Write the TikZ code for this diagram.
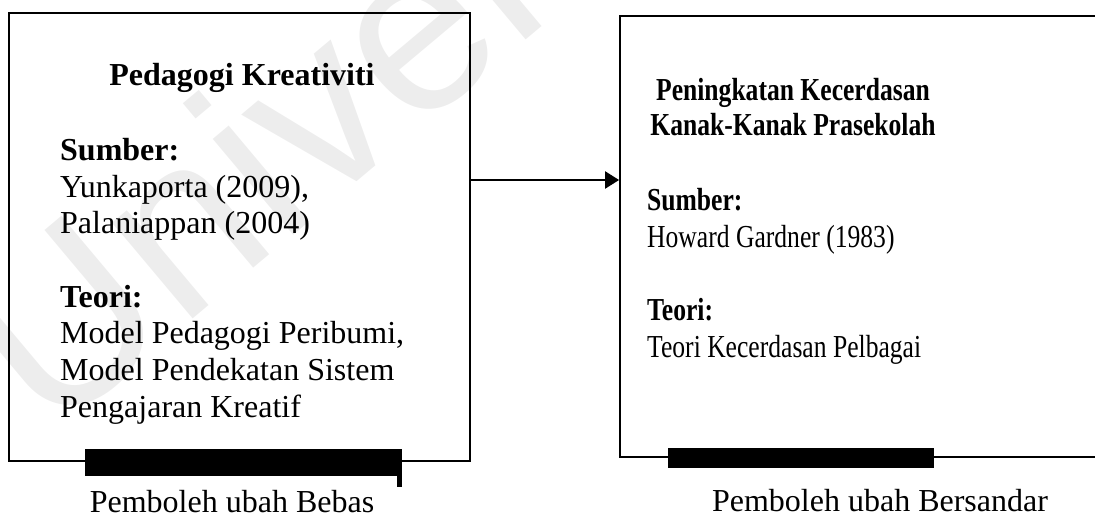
\documentclass[tikz,border=0pt]{standalone}
\usepackage{fontspec}
\setmainfont{Liberation Serif}
\newfontfamily\narrowserif[FakeStretch=0.8]{Liberation Serif}
\newfontfamily\markfont{Liberation Sans}
\usetikzlibrary{arrows.meta}

\begin{document}
\begin{tikzpicture}[x=1pt,y=-1pt,
  boxframe/.style={draw=black, line width=1.8pt, inner sep=0pt, rectangle},
  txt/.style={inner sep=0pt, anchor=base west, font=\fontsize{32}{36}\selectfont},
  head/.style={txt, font=\bfseries\fontsize{32}{36}\selectfont},
  rtxt/.style={txt, font=\narrowserif\fontsize{32}{36}\selectfont},
  rhead/.style={txt, font=\narrowserif\bfseries\fontsize{32}{36}\selectfont},
  conn/.style={line width=2.2pt, -{Triangle[length=14pt,width=17pt]}},
  bar/.style={fill=black},
  stampstyle/.style={inner sep=0pt, anchor=base west, rotate=40, text=black!7,
    font=\markfont\fontsize{237}{237}\selectfont}
]
\useasboundingbox (0,0) rectangle (1095,517);
\clip (0,0) rectangle (1095,517);

% faint background stamp
\node[stampstyle] (stamp) at (49,440) {Universiti Malaya};

% the two variable boxes
\node[boxframe, minimum width=461pt, minimum height=448pt] (lbox) at (239.5,237) {};
\node[boxframe, minimum width=480pt, minimum height=441pt] (rbox) at (860,236.5) {};

% connector between the boxes
\coordinate (arrowlevel) at (0,180);
\draw[conn] (lbox.east |- arrowlevel) -- (rbox.west |- arrowlevel);

% black bars along the bottom edges
\fill[bar] (85,449) rectangle (402,476);
\fill[bar] (397,476) rectangle (402,487);
\fill[bar] (668,448) rectangle (934,468);

% left box contents
\node[head, anchor=base] (ltitle) at (242,85) {Pedagogi Kreativiti};
\node[head] (lsrc) at (60,160) {Sumber:};
\node[txt] (lsrc1) at (60,197) {Yunkaporta (2009),};
\node[txt] (lsrc2) at (60,233) {Palaniappan (2004)};
\node[head] (lthy) at (60,307) {Teori:};
\node[txt] (lthy1) at (60,343) {Model Pedagogi Peribumi,};
\node[txt] (lthy2) at (60,380) {Model Pendekatan Sistem};
\node[txt] (lthy3) at (60,417) {Pengajaran Kreatif};

% right box contents
\node[rhead, anchor=base] (rtitle1) at (793,100) {Peningkatan Kecerdasan};
\node[rhead, anchor=base] (rtitle2) at (793,135) {Kanak-Kanak Prasekolah};
\node[rhead] (rsrc) at (647,210) {Sumber:};
\node[rtxt] (rsrc1) at (647,247) {Howard Gardner (1983)};
\node[rhead] (rthy) at (647,320) {Teori:};
\node[rtxt] (rthy1) at (647,357) {Teori Kecerdasan Pelbagai};

% captions under the boxes
\node[txt, anchor=base] (lcap) at (232,512) {Pemboleh ubah Bebas};
\node[txt, anchor=base] (rcap) at (880,511) {Pemboleh ubah Bersandar};
\end{tikzpicture}
\end{document}
